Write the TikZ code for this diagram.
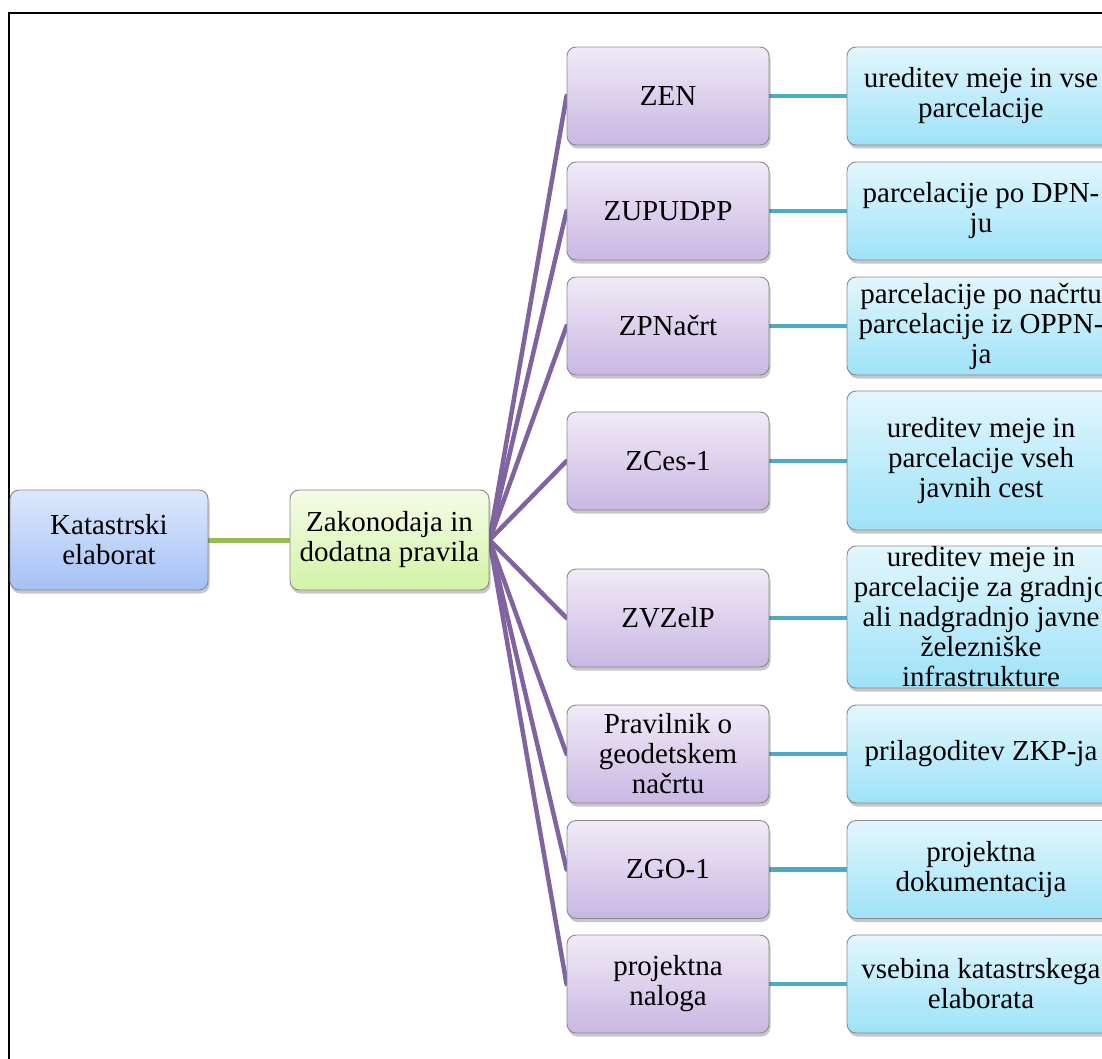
\documentclass[tikz,border=0pt]{standalone}
\usepackage{fontspec}
\setmainfont{Liberation Serif}
\usetikzlibrary{shadows,backgrounds}

\definecolor{edgegray}{HTML}{8A8A8A}
\definecolor{purpleline}{HTML}{8064A2}
\definecolor{tealline}{HTML}{4BACC6}
\definecolor{greenline}{HTML}{9BBB59}
\definecolor{rootTop}{HTML}{DDE8FC}
\definecolor{rootBot}{HTML}{A3C1F6}
\definecolor{lawTop}{HTML}{F5FCE8}
\definecolor{lawBot}{HTML}{D3F3A6}
\definecolor{actTop}{HTML}{F0EBF7}
\definecolor{actBot}{HTML}{CAB7E3}
\definecolor{resTop}{HTML}{E2F7FD}
\definecolor{resBot}{HTML}{9EE2F8}

\tikzset{
  box/.style={draw=edgegray, line width=0.9pt, rounded corners=9pt,
    inner sep=0pt, align=center, text=black,
    font=\fontsize{29}{30}\selectfont,
    drop shadow={shadow xshift=1.5pt, shadow yshift=-3.5pt, opacity=0.22, fill=black}},
  rootbox/.style={box, top color=rootTop, bottom color=rootBot,
    minimum width=198pt, minimum height=100pt},
  lawbox/.style={box, top color=lawTop, bottom color=lawBot,
    minimum width=199pt, minimum height=100pt},
  actbox/.style={box, top color=actTop, bottom color=actBot,
    minimum width=202pt, minimum height=98pt},
  resbox/.style={box, top color=resTop, bottom color=resBot,
    minimum width=268pt, minimum height=98pt},
  rootlink/.style={draw=greenline, line width=5pt},
  lawlink/.style={draw=purpleline, line width=4.5pt},
  reslink/.style={draw=tealline, line width=4.5pt},
}

\begin{document}
\begin{tikzpicture}[x=1pt, y=-1pt]
  \useasboundingbox (0,0) rectangle (1102,1059);
  \clip (0,0) rectangle (1102,1059);

  % outer frame
  \draw[line width=2.2pt, black] (9,1080) -- (9,13) -- (1120,13);

  % root and second level
  \node[rootbox] (kat) at (109,540) {Katastrski\\elaborat};
  \node[lawbox]  (zak) at (389.5,540) {Zakonodaja in\\dodatna pravila};

  % regulations
  \node[actbox] (zen)  at (668,96)    {ZEN};
  \node[actbox] (zup)  at (668,211)   {ZUPUDPP};
  \node[actbox] (zpn)  at (668,326)   {ZPNačrt};
  \node[actbox] (zces) at (668,461)   {ZCes-1};
  \node[actbox] (zvz)  at (668,618)   {ZVZelP};
  \node[actbox] (prav) at (668,754)   {Pravilnik o\\geodetskem\\načrtu};
  \node[actbox] (zgo)  at (668,869.5) {ZGO-1};
  \node[actbox] (proj) at (668,984)   {projektna\\naloga};

  % what each regulation covers
  \node[resbox] (r1) at (981,96)  {ureditev meje in vse\\parcelacije};
  \node[resbox] (r2) at (981,211) {parcelacije po DPN-\\ju};
  \node[resbox] (r3) at (981,326) {parcelacije po načrtu\\parcelacije iz OPPN-\\ja};
  \node[resbox, minimum height=139pt] (r4) at (981,460.5) {ureditev meje in\\parcelacije vseh\\javnih cest};
  \node[resbox, minimum height=142pt] (r5) at (981,617) {ureditev meje in\\parcelacije za gradnjo\\ali nadgradnjo javne\\železniške\\infrastrukture};
  \node[resbox] (r6) at (981,754)   {prilagoditev ZKP-ja};
  \node[resbox] (r7) at (981,869.5) {projektna\\dokumentacija};
  \node[resbox] (r8) at (981,984)   {vsebina katastrskega\\elaborata};

  % connectors behind the boxes
  \begin{scope}[on background layer]
    \draw[rootlink] (kat.east) -- (zak.west);
    \foreach \n in {zen,zup,zpn,zces,zvz,prav,zgo,proj}
      \draw[lawlink, line cap=round] (zak.east) -- (\n.west);
    \draw[reslink] (zen.east)  -- (zen.east -| r1.west);
    \draw[reslink] (zup.east)  -- (zup.east -| r2.west);
    \draw[reslink] (zpn.east)  -- (zpn.east -| r3.west);
    \draw[reslink] (zces.east) -- (zces.east -| r4.west);
    \draw[reslink] (zvz.east)  -- (zvz.east -| r5.west);
    \draw[reslink] (prav.east) -- (prav.east -| r6.west);
    \draw[reslink] (zgo.east)  -- (zgo.east -| r7.west);
    \draw[reslink] (proj.east) -- (proj.east -| r8.west);
  \end{scope}
\end{tikzpicture}
\end{document}
